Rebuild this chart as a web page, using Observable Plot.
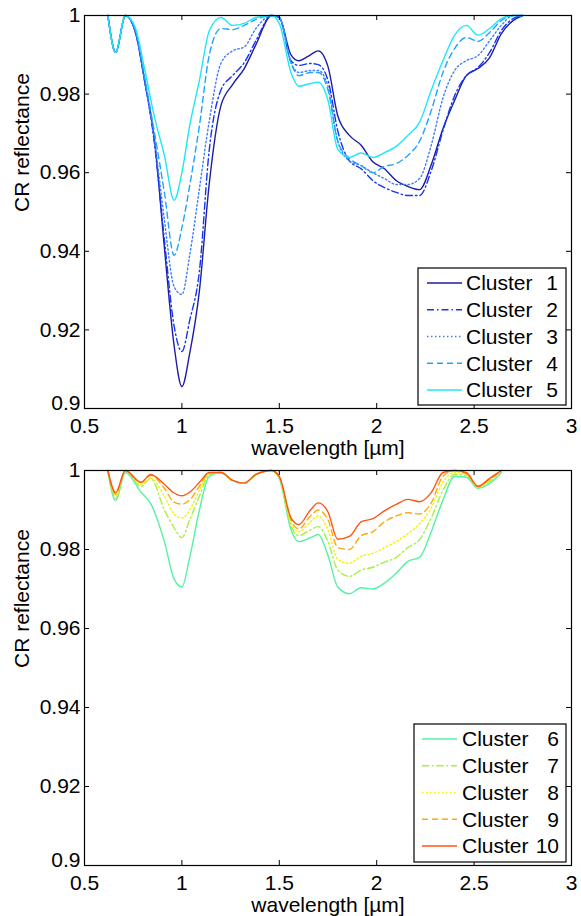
<!DOCTYPE html>
<html><head><meta charset="utf-8">
<script src="https://cdn.jsdelivr.net/npm/d3@7"></script>
<script src="https://cdn.jsdelivr.net/npm/@observablehq/plot@0.6"></script>
<style>
body{margin:0;background:#fff;}
#c svg{display:block;}
</style>
</head><body>
<div id="c" style="width:581px;height:916px;"></div>
<script>
// ---- data ----
const wlTop = [0.62,0.66,0.71,0.76,0.81,0.86,0.91,0.96,1.00,1.04,1.09,1.14,1.20,1.26,1.32,1.38,1.46,1.50,1.56,1.60,1.66,1.70,1.75,1.80,1.86,1.92,1.98,2.04,2.10,2.16,2.22,2.28,2.34,2.40,2.46,2.52,2.58,2.64,2.70,2.75];
const cluster1 = [1.0,0.9906,1.0,0.996,0.983, 0.968,0.941,0.916,0.9056,0.914, 0.930,0.957,0.977,0.9824,0.9865, 0.9926,1.0,0.9995,0.990,0.9885, 0.990,0.991,0.987,0.9745,0.9695, 0.967,0.9628,0.961,0.958,0.9565, 0.9557,0.962,0.9712,0.9784,0.9847, 0.9865,0.9893,0.9954,0.9987,1.0];
const cluster2 = [1.0,0.9906,1.0,0.996,0.983, 0.967,0.943,0.921,0.9145,0.9224, 0.935,0.9656,0.981,0.9847,0.988, 0.9936,1.0,0.9995,0.9885,0.9873, 0.9878,0.9875,0.9835,0.9707,0.963, 0.961,0.958,0.9562,0.955,0.9542, 0.9542,0.9605,0.9707,0.9796,0.9847, 0.9868,0.9906,0.9962,0.9992,1.0];
const cluster3 = [1.0,0.9906,1.0,0.996,0.983, 0.968,0.948,0.931,0.929,0.939, 0.956,0.973,0.9878,0.991,0.992, 0.9967,1.0,0.9995,0.988,0.9855, 0.986,0.986,0.982,0.968,0.963, 0.9618,0.960,0.9585,0.957,0.957, 0.9585,0.967,0.979,0.986,0.9885, 0.9898,0.9936,0.9975,1.0,1.0];
const cluster4 = [1.0,0.9906,1.0,0.9965,0.984, 0.970,0.955,0.939,0.946,0.9567, 0.972,0.9898,0.9967,0.9964,0.9975, 0.999,1.0,0.9995,0.988,0.9847, 0.9855,0.9855,0.981,0.968,0.9636, 0.9618,0.960,0.9616,0.9623,0.9644, 0.968,0.9758,0.9855,0.9916,0.9944, 0.9934,0.9957,0.9987,1.0,1.0];
const cluster5 = [1.0,0.9906,1.0,0.997,0.986, 0.974,0.9644,0.953,0.960,0.972, 0.9835,0.996,0.9995,0.9975,0.998, 0.9995,1.0,0.998,0.9855,0.982, 0.9827,0.983,0.9784,0.966,0.9639, 0.965,0.9639,0.9651,0.9667,0.9695, 0.9728,0.981,0.9885,0.995,0.9975, 0.995,0.9967,0.9992,1.0,1.0];

const wlBottom = [0.62,0.66,0.71,0.79,0.84,0.91,0.96,1.00,1.04,1.09,1.14,1.20,1.26,1.32,1.38,1.46,1.50,1.56,1.60,1.66,1.70,1.75,1.80,1.86,1.92,1.98,2.04,2.10,2.16,2.22,2.28,2.34,2.40,2.46,2.52,2.58,2.64];
const cluster6 = [0.9995,0.9924,0.9995,0.9945,0.9916, 0.982,0.9725,0.9705,0.978,0.990, 0.9985,0.9995,0.9975,0.9968,0.999, 1.0,0.998,0.985,0.982,0.983, 0.9838,0.9785,0.9705,0.9688,0.9703, 0.970,0.9715,0.974,0.977,0.978, 0.9845,0.9925,0.9985,0.9983,0.9955, 0.9967,0.9995];
const cluster7 = [1.0,0.993,1.0,0.996,0.998, 0.990,0.9855,0.983,0.9875,0.9935, 0.999,0.9995,0.9975,0.9968,0.999, 1.0,0.9982,0.986,0.9835,0.985, 0.9858,0.982,0.9748,0.9732,0.9748, 0.9755,0.9768,0.978,0.9805,0.9825, 0.988,0.995,0.999,0.9988,0.9958, 0.9972,1.0];
const cluster8 = [1.0,0.9935,1.0,0.9965,0.998, 0.9935,0.989,0.988,0.990,0.995, 0.9992,0.9995,0.9975,0.9968,0.999, 1.0,0.9983,0.9868,0.9845,0.987, 0.9885,0.985,0.9775,0.9765,0.9783, 0.979,0.9805,0.982,0.984,0.9865, 0.9905,0.997,0.9995,0.999,0.9958, 0.9975,1.0];
const cluster9 = [1.0,0.994,1.0,0.997,0.9988, 0.9955,0.992,0.9915,0.9925,0.996, 0.9994,0.9995,0.9975,0.9968,0.999, 1.0,0.9984,0.9875,0.9852,0.9885, 0.99,0.9875,0.9805,0.980,0.9835, 0.9845,0.987,0.9885,0.9893,0.989, 0.9918,0.9985,1.0,0.9992,0.996, 0.9978,1.0];
const cluster10 = [1.0,0.9944,1.0,0.997,0.999, 0.9965,0.9943,0.9936,0.9945,0.997, 0.9995,0.9995,0.9975,0.9968,0.999, 1.0,0.9985,0.988,0.9863,0.990, 0.9918,0.9895,0.9826,0.9833,0.987, 0.9878,0.9898,0.9914,0.9927,0.9921, 0.9944,0.9995,1.0,0.9995,0.996, 0.998,1.0];

const topNames = ["1","2","3","4","5"];
const bottomNames = ["6","7","8","9","10"];
const topColors = ["#1c1ca6","#1236f5","#3f7bff","#1ea4ff","#1ee8f4"];
const bottomColors = ["#55f2a2","#a6f043","#f2f20a","#ffa70f","#ff5515"];
const dashStyles = [null,"7,3,1.5,3","1.5,2.5","6,4",null];
const xTicks = [0.5,1,1.5,2,2.5,3];
const yTicks = [0.92,0.94,0.96,0.98,1];
const yTickLow = [0.9];

const FONT = "Liberation Sans, Arial, Helvetica, sans-serif";
const FS = 21;
const WIDTH = 581, ML = 84, MR = 10;

function panel(seriesList, wl, names, colors, mt, mb, h, legend) {
  const data = seriesList.flatMap((vals, i) => vals.map((v, j) => ({w: wl[j], v, k: i})));
  const W = WIDTH - ML - MR, H = h - mt - mb;
  const allY = yTickLow.concat(yTicks);
  const marks = [
    ...seriesList.map((vals, i) => Plot.line(data.filter(d => d.k === i), {
      x: "w", y: "v", stroke: colors[i], strokeWidth: 1.4, curve: "monotone-x",
      strokeDasharray: dashStyles[i] || undefined, strokeLinejoin: "round"
    })),
    Plot.frame({stroke: "black", strokeWidth: 1.2}),
    Plot.tickX(xTicks, {x: d => d, insetTop: H - 5, strokeWidth: 1}),
    Plot.tickX(xTicks, {x: d => d, insetBottom: H - 5, strokeWidth: 1}),
    Plot.tickY(allY, {y: d => d, insetRight: W - 5, strokeWidth: 1}),
    Plot.tickY(allY, {y: d => d, insetLeft: W - 5, strokeWidth: 1}),
    Plot.axisX({ticks: xTicks, tickSize: 0, tickPadding: 10, label: null, tickFormat: d => String(d), fontSize: FS, fill: "#000"}),
    Plot.axisY({ticks: yTicks, tickSize: 0, tickPadding: 4, label: null, tickFormat: d => String(d), fontSize: FS, fill: "#000"}),
    Plot.axisY({ticks: yTickLow, tickSize: 0, tickPadding: 4, label: null, tickFormat: d => String(d), fontSize: FS, fill: "#000", dy: -5}),
    Plot.text(["wavelength [µm]"], {frameAnchor: "bottom", dy: 40, lineAnchor: "middle", fontSize: FS, fill: "#000"}),
    Plot.text(["CR reflectance"], {frameAnchor: "left", dx: -62, rotate: -90, lineAnchor: "middle", fontSize: FS, fill: "#000"})
  ];
  const svg = Plot.plot({
    width: WIDTH, height: h,
    marginLeft: ML, marginRight: MR, marginTop: mt, marginBottom: mb,
    x: {domain: [0.5, 3], axis: null},
    y: {domain: [0.9, 1], axis: null},
    style: {fontFamily: FONT, fontSize: FS + "px", color: "#000", background: "#fff", overflow: "visible"},
    marks
  });
  // legend (MATLAB-style box inside the axes)
  const g = d3.select(svg).append("g").attr("font-family", FONT).attr("font-size", FS).attr("fill", "#000");
  g.append("rect").attr("x", legend.x0).attr("y", legend.y0)
    .attr("width", legend.x1 - legend.x0).attr("height", legend.y1 - legend.y0)
    .attr("fill", "#fff").attr("stroke", "#000").attr("stroke-width", 1.2);
  names.forEach((n, i) => {
    const y = legend.row0 + i * legend.step;
    g.append("line").attr("x1", legend.lx0).attr("x2", legend.lx1).attr("y1", y).attr("y2", y)
      .attr("stroke", colors[i]).attr("stroke-width", 1.4)
      .attr("stroke-dasharray", dashStyles[i]);
    g.append("text").attr("x", legend.tx).attr("y", y).attr("dy", "0.35em").attr("text-anchor", "start").text("Cluster");
    g.append("text").attr("x", legend.nx).attr("y", y).attr("dy", "0.35em").attr("text-anchor", "end").text(n);
  });
  return svg;
}

const c = document.getElementById("c");
c.appendChild(panel([cluster1, cluster2, cluster3, cluster4, cluster5], wlTop, topNames, topColors, 15, 50, 458,
  {x0: 418, x1: 566, y0: 268, y1: 405, row0: 283, step: 26.75, lx0: 427, lx1: 462, tx: 466, nx: 558}));
c.appendChild(panel([cluster6, cluster7, cluster8, cluster9, cluster10], wlBottom, bottomNames, bottomColors, 12, 51, 458,
  {x0: 414, x1: 566, y0: 266, y1: 404, row0: 281, step: 26.75, lx0: 422, lx1: 457, tx: 462, nx: 559}));
</script>
</body></html>
